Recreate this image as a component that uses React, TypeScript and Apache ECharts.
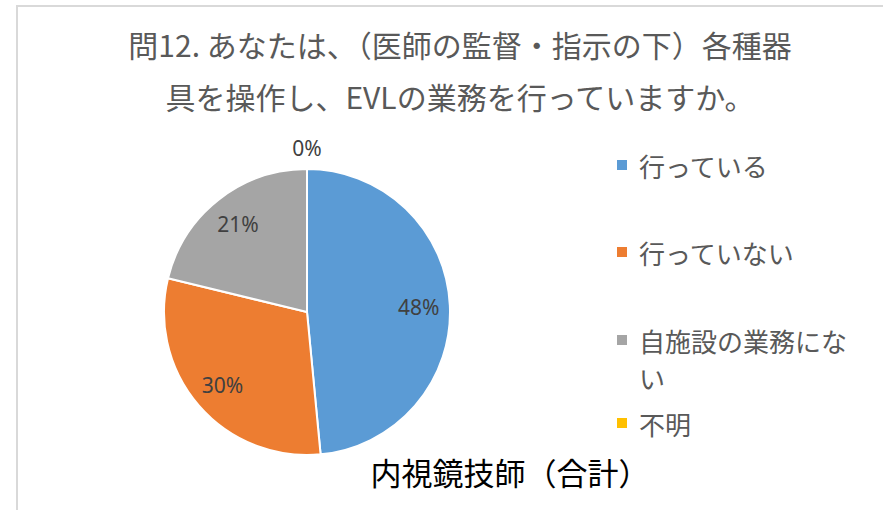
import React, { useEffect, useRef } from "react";
import * as echarts from "echarts";

const categories = ["行っている", "行っていない", "自施設の業務にない", "不明"];
const percents = [48, 30, 21, 0];
const colors = ["#5B9BD5", "#ED7D31", "#A5A5A5", "#FFC000"];
const titleLines = [
  "問12. あなたは、（医師の監督・指示の下）各種器",
  "具を操作し、EVLの業務を行っていますか。",
];
const subtitleText = "内視鏡技師（合計）";

const W = 883;
const H = 510;
const CX = 307;
const CY = 312;
const R = 143;
const LABEL_SCALE = 1.5;
const legendIconY = [165, 252, 340, 423];
const LEGEND_LINE = 37;
const ICON = 10;
const FONT = "'Noto Sans CJK JP', 'Noto Sans', sans-serif";

// square icon aligned to the first text line of a two-line legend entry
const TALL_H = ICON + LEGEND_LINE;
const TALL_ICON = `path://M0,0H${ICON}V${ICON}H0Z M0,${TALL_H}L${ICON},${TALL_H}`;

export default function App() {
  const ref = useRef<HTMLDivElement>(null);

  useEffect(() => {
    const chart = echarts.init(ref.current!, null, { renderer: "svg", width: W, height: H });
    const data = categories.map((name, i) => ({
      name,
      value: percents[i],
      itemStyle: { color: colors[i] },
      label: percents[i] === 0 ? { position: "outside" } : { position: "inside" },
    }));

    chart.setOption({
      animation: false,
      backgroundColor: "transparent",
      title: [
        {
          text: titleLines.join("\n"),
          left: 455,
          top: 13,
          textAlign: "center",
          textStyle: {
            fontFamily: FONT,
            fontSize: 30,
            fontWeight: "normal",
            color: "#595959",
            lineHeight: 52,
          },
        },
        {
          text: subtitleText,
          left: 505,
          top: 447,
          textAlign: "center",
          textStyle: {
            fontFamily: FONT,
            fontSize: 31,
            fontWeight: "normal",
            color: "#000000",
            lineHeight: 38,
          },
        },
      ],
      legend: categories.map((name, i) => {
        const wrapped = i === 2;
        return {
          data: [name],
          orient: "vertical",
          left: 617,
          top: legendIconY[i] - LEGEND_LINE / 2,
          padding: 0,
          itemWidth: ICON,
          itemHeight: wrapped ? TALL_H : ICON,
          icon: wrapped ? TALL_ICON : "rect",
          itemStyle: { borderWidth: 0 },
          selectedMode: false,
          textStyle: {
            fontFamily: FONT,
            fontSize: 26,
            color: "#595959",
            lineHeight: LEGEND_LINE,
            width: 222,
            overflow: "break",
            padding: [0, 0, 0, 7],
          },
        };
      }),
      series: [
        {
          type: "pie",
          center: [CX, CY],
          radius: [0, R],
          startAngle: 90,
          clockwise: true,
          avoidLabelOverlap: false,
          silent: true,
          itemStyle: { borderColor: "#ffffff", borderWidth: 2 },
          label: {
            show: true,
            fontFamily: "'Noto Sans', sans-serif",
            fontSize: 21,
            color: "#404040",
            formatter: (p: any) => `${Math.round(p.percent)}%`,
          },
          labelLine: { show: false, length: 21, length2: 0 },
          labelLayout: (p: any) => {
            const r = p.labelRect;
            const lx = r.x + r.width / 2;
            const ly = r.y + r.height / 2;
            if (percents[p.dataIndex] === 0) {
              return { x: CX, y: ly, align: "center", verticalAlign: "middle" };
            }
            return {
              x: CX + (lx - CX) * LABEL_SCALE,
              y: CY + (ly - CY) * LABEL_SCALE,
              align: "center",
              verticalAlign: "middle",
            };
          },
          data,
        },
      ],
    });
    return () => chart.dispose();
  }, []);

  return (
    <div
      style={{
        position: "fixed",
        left: 0,
        top: 0,
        width: W,
        height: H,
        overflow: "hidden",
        background: "#ffffff",
      }}
    >
      <div
        style={{
          position: "absolute",
          left: 16,
          top: 5,
          width: 900,
          height: 600,
          border: "2px solid #d9d9d9",
        }}
      />
      <div ref={ref} style={{ position: "absolute", left: 0, top: 0, width: W, height: H }} />
    </div>
  );
}
